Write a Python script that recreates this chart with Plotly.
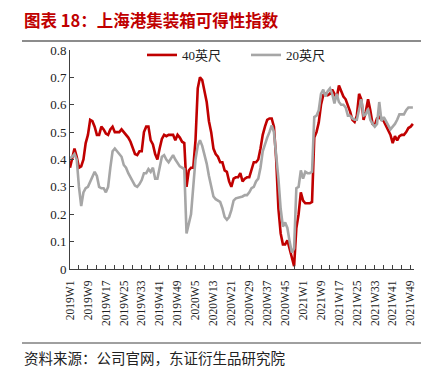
import plotly.graph_objects as go

weeks = [f"2019W{i}" for i in range(1, 53)] + [f"2020W{i}" for i in range(1, 53)] + [f"2021W{i}" for i in range(1, 51)]

ft40 = [0.37, 0.40, 0.44, 0.41, 0.37, 0.375, 0.40, 0.46, 0.49, 0.545,
        0.54, 0.52, 0.49, 0.49, 0.52, 0.51, 0.495, 0.49, 0.51, 0.52,
        0.50, 0.50, 0.50, 0.51, 0.50, 0.49, 0.48, 0.465, 0.44, 0.42,
        0.416, 0.43, 0.43, 0.50, 0.52, 0.52, 0.47, 0.455, 0.42, 0.40,
        0.44, 0.475, 0.49, 0.485, 0.49, 0.49, 0.49, 0.47, 0.49, 0.48,
        0.465, 0.46, 0.30, 0.36, 0.37, 0.37, 0.47, 0.66, 0.70, 0.69,
        0.65, 0.61, 0.54, 0.50, 0.44, 0.42, 0.41, 0.39, 0.39, 0.36,
        0.355, 0.32, 0.30, 0.33, 0.335, 0.335, 0.35, 0.32, 0.33, 0.335,
        0.335, 0.36, 0.39, 0.39, 0.40, 0.44, 0.49, 0.52, 0.545, 0.55,
        0.55, 0.52, 0.40, 0.22, 0.13, 0.09, 0.09, 0.105, 0.07, 0.045,
        0.01, 0.15, 0.20, 0.28, 0.25, 0.24, 0.24, 0.24, 0.245, 0.48,
        0.50, 0.535, 0.60, 0.635, 0.64, 0.635, 0.64, 0.655, 0.64, 0.625,
        0.67, 0.65, 0.63, 0.62, 0.60, 0.575, 0.545, 0.537, 0.56, 0.64,
        0.62, 0.545, 0.575, 0.62, 0.58, 0.53, 0.525, 0.55, 0.555, 0.545,
        0.54, 0.525, 0.51, 0.49, 0.46, 0.485, 0.47, 0.485, 0.49, 0.49,
        0.50, 0.515, 0.52, 0.53]

ft20 = [0.405, 0.41, 0.42, 0.40, 0.30, 0.23, 0.28, 0.295, 0.30, 0.32,
        0.335, 0.355, 0.34, 0.30, 0.295, 0.295, 0.28, 0.30, 0.37, 0.43,
        0.44, 0.43, 0.42, 0.41, 0.38, 0.37, 0.35, 0.335, 0.325, 0.305,
        0.30, 0.31, 0.325, 0.35, 0.35, 0.365, 0.355, 0.37, 0.33, 0.33,
        0.37, 0.41, 0.416, 0.40, 0.39, 0.405, 0.416, 0.40, 0.385, 0.375,
        0.37, 0.365, 0.13, 0.165, 0.20, 0.30, 0.40, 0.45, 0.47, 0.45,
        0.42, 0.385, 0.34, 0.30, 0.265, 0.255, 0.25, 0.245, 0.222, 0.19,
        0.18, 0.19, 0.215, 0.25, 0.258, 0.26, 0.264, 0.265, 0.27, 0.27,
        0.28, 0.295, 0.30, 0.32, 0.33, 0.37, 0.43, 0.46, 0.48, 0.50,
        0.525, 0.50, 0.42, 0.33, 0.22, 0.155, 0.17, 0.15, 0.10, 0.06,
        0.075, 0.295, 0.30, 0.36, 0.33, 0.355, 0.35, 0.35, 0.355, 0.555,
        0.56, 0.58, 0.64, 0.655, 0.63, 0.65, 0.66, 0.64, 0.605, 0.64,
        0.61, 0.60, 0.60, 0.59, 0.56, 0.56, 0.55, 0.545, 0.545, 0.59,
        0.62, 0.56, 0.565, 0.585, 0.545, 0.53, 0.52, 0.53, 0.61, 0.54,
        0.555, 0.54, 0.525, 0.51, 0.52, 0.53, 0.545, 0.565, 0.565, 0.565,
        0.58, 0.59, 0.59, 0.59]

yticks = [0, 0.1, 0.2, 0.3, 0.4, 0.5, 0.6, 0.7, 0.8]
ytext = ["0", "0.1", "0.2", "0.3", "0.4", "0.5", "0.6", "0.7", "0.8"]

tickvals = weeks[::4]
ticktext = [w if i % 8 == 0 else "" for i, w in enumerate(weeks) if i % 4 == 0]

serif = "Liberation Serif, Noto Sans CJK SC"
cjk = "Noto Sans CJK SC"

W, H = 432, 377
PL, PR, PT, PB = 70, 414, 50, 269  # plot area in pixels


def px(x):
    return x / W


def py(y):
    return 1 - y / H


fig = go.Figure()
fig.add_trace(go.Scatter(x=weeks, y=ft40, mode="lines", name="40英尺",
                         line=dict(color="#C00000", width=2.6)))
fig.add_trace(go.Scatter(x=weeks, y=ft20, mode="lines", name="20英尺",
                         line=dict(color="#A6A6A6", width=2.6)))

# page-frame separator rules (decoration), drawn on a full-figure pixel overlay
for yy, col, wd in [(41, "#8c8c8c", 1.8), (343, "#404040", 1.0)]:
    fig.add_trace(go.Scatter(x=[22, 421], y=[yy, yy], mode="lines", xaxis="x2", yaxis="y2",
                             line=dict(color=col, width=wd), showlegend=False,
                             hoverinfo="skip"))

fig.update_layout(
    width=W, height=H,
    margin=dict(l=0, r=0, t=0, b=0, autoexpand=False),
    paper_bgcolor="white", plot_bgcolor="rgba(0,0,0,0)",
    showlegend=True,
    legend=dict(orientation="h", x=px(142), y=py(55), xanchor="left", yanchor="middle",
                font=dict(family=serif, size=13, color="#222"),
                bgcolor="rgba(0,0,0,0)", itemwidth=30, entrywidth=59,
                tracegroupgap=0),
    xaxis=dict(type="category", range=[0, 153.5], tickmode="array",
               domain=[px(PL), px(PR)],
               tickvals=tickvals, ticktext=ticktext, tickangle=-90,
               ticks="inside", ticklen=4, tickcolor="#404040",
               showline=True, linecolor="#404040", linewidth=1,
               showgrid=False, zeroline=False, ticklabelstandoff=6,
               tickfont=dict(family=serif, size=11.5, color="#222")),
    yaxis=dict(range=[0, 0.8], tickmode="array", tickvals=yticks, ticktext=ytext,
               domain=[py(PB), py(PT)],
               ticks="inside", ticklen=4, tickcolor="#404040",
               showline=True, linecolor="#404040", linewidth=1,
               showgrid=False, zeroline=False,
               tickfont=dict(family=serif, size=13, color="#222")),
    xaxis2=dict(domain=[0, 1], range=[0, W], anchor="y2", visible=False,
                showgrid=False, zeroline=False, fixedrange=True),
    yaxis2=dict(domain=[0, 1], range=[H, 0], anchor="x2", visible=False,
                showgrid=False, zeroline=False, fixedrange=True),
    annotations=[
        dict(text="<b>图表 18：上海港集装箱可得性指数</b>", xref="paper", yref="paper",
             x=px(22), y=py(20), xanchor="left", yanchor="middle", showarrow=False,
             font=dict(family=cjk, size=16.5, color="#C00000")),
        dict(text="资料来源：公司官网，东证衍生品研究院", xref="paper", yref="paper",
             x=px(22), y=py(357), xanchor="left", yanchor="middle", showarrow=False,
             font=dict(family=cjk, size=14.5, color="#222")),
    ],
)

fig.write_html("out.html", config={"displayModeBar": False},
               post_script="document.body.style.margin='0px';")
